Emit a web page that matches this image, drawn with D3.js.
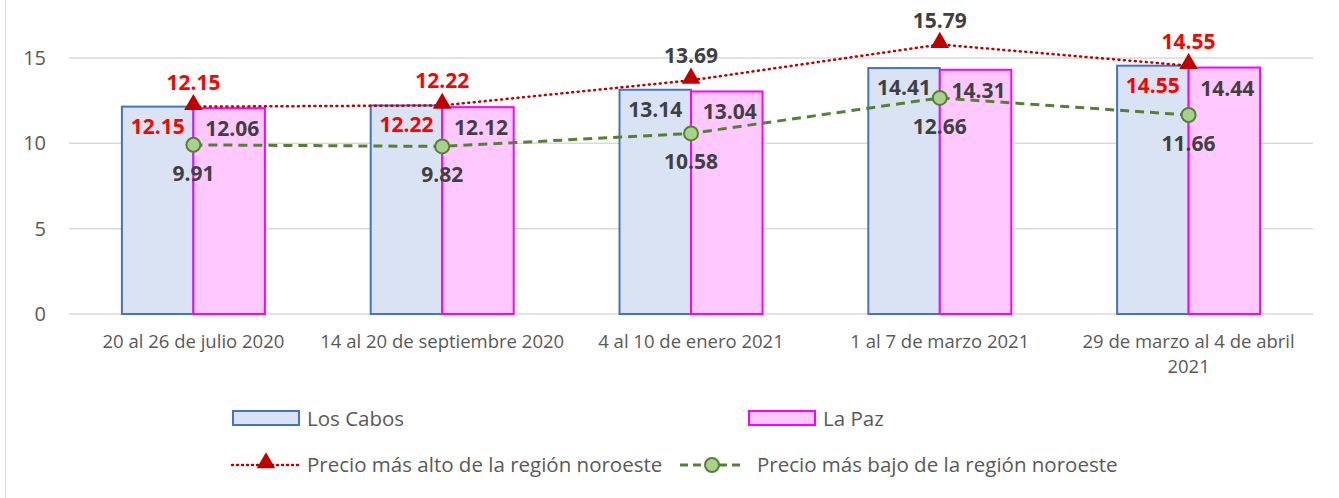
<!DOCTYPE html>
<html>
<head>
<meta charset="utf-8">
<script src="https://cdn.jsdelivr.net/npm/d3@7"></script>
<style>
  body { margin: 0; background: #fff; }
  svg { font-family: "Open Sans", "Liberation Sans", sans-serif; }
</style>
</head>
<body>
<div id="chart"></div>
<script>
const categories = [["20 al 26 de julio 2020"], ["14 al 20 de septiembre 2020"], ["4 al 10 de enero 2021"], ["1 al 7 de marzo 2021"], ["29 de marzo al 4 de abril", "2021"]];
const losCabos = [12.15, 12.22, 13.14, 14.41, 14.55];
const laPaz = [12.06, 12.12, 13.04, 14.31, 14.44];
const precioAlto = [12.15, 12.22, 13.69, 15.79, 14.55];
const precioBajo = [9.91, 9.82, 10.58, 12.66, 11.66];
const yTicks = [0, 5, 10, 15];
// labels drawn in red where the value matches the highest price
const altoRojo = [true, true, false, false, true];

const W = 1339, H = 498;
const plot = {left: 69, right: 1313, top: 58, bottom: 314};

const svg = d3.select("#chart").append("svg")
  .attr("width", W).attr("height", H);

// chart border (left edge visible)
svg.append("line")
  .attr("x1", 5.5).attr("x2", 5.5).attr("y1", 0).attr("y2", H)
  .attr("stroke", "#d9d9d9").attr("stroke-width", 1);

const x = d3.scaleBand()
  .domain(d3.range(categories.length))
  .range([plot.left, plot.right]);

const xInner = d3.scaleBand()
  .domain(["cabos", "paz"])
  .range([0, 143])
  .padding(0);

const y = d3.scaleLinear()
  .domain([0, 15])
  .range([plot.bottom, plot.top]);

// gridlines
svg.append("g")
  .selectAll("line")
  .data(yTicks)
  .enter().append("line")
  .attr("x1", plot.left).attr("x2", plot.right)
  .attr("y1", d => y(d)).attr("y2", d => y(d))
  .attr("stroke", "#d9d9d9").attr("stroke-width", 1.5);

// y tick labels
svg.append("g")
  .selectAll("text")
  .data(yTicks)
  .enter().append("text")
  .attr("x", 46).attr("y", d => y(d) + 7)
  .attr("text-anchor", "end")
  .attr("font-size", 20).attr("fill", "#595959")
  .text(d => d);

// x labels
const xl = svg.append("g").selectAll("text")
  .data(categories)
  .enter().append("text")
  .attr("x", (d, i) => x(i) + x.bandwidth() / 2)
  .attr("y", 348)
  .attr("text-anchor", "middle")
  .attr("font-size", 18.5).attr("fill", "#595959");
xl.selectAll("tspan")
  .data(d => d)
  .enter().append("tspan")
  .attr("x", function() { return d3.select(this.parentNode).attr("x"); })
  .attr("dy", (d, i) => i === 0 ? 0 : 25)
  .text(d => d);

const cx = i => x(i) + x.bandwidth() / 2;
const groupStart = i => cx(i) - xInner.range()[1] / 2;

// bars
svg.append("g").selectAll("rect")
  .data(losCabos)
  .enter().append("rect")
  .attr("x", (d, i) => groupStart(i) + xInner("cabos"))
  .attr("y", d => y(d))
  .attr("width", xInner.bandwidth())
  .attr("height", d => plot.bottom - y(d))
  .attr("fill", "#dae3f3").attr("stroke", "#4472c4").attr("stroke-width", 2);

svg.append("g").selectAll("rect")
  .data(laPaz)
  .enter().append("rect")
  .attr("x", (d, i) => groupStart(i) + xInner("paz"))
  .attr("y", d => y(d))
  .attr("width", xInner.bandwidth())
  .attr("height", d => plot.bottom - y(d))
  .attr("fill", "#ffc9ff").attr("stroke", "#ff00ff").attr("stroke-width", 2);

// lines
const line = d3.line().x((d, i) => cx(i)).y(d => y(d));

svg.append("path")
  .datum(precioAlto)
  .attr("d", line)
  .attr("fill", "none").attr("stroke", "#c00000")
  .attr("stroke-width", 2.5).attr("stroke-dasharray", "1,4.5").attr("stroke-linecap", "round");

svg.append("path")
  .datum(precioBajo)
  .attr("d", line)
  .attr("fill", "none").attr("stroke", "#548235")
  .attr("stroke-width", 3).attr("stroke-dasharray", "9,6");

const tri = d3.symbol().type(d3.symbolTriangle).size(150);
svg.append("g").selectAll("path")
  .data(precioAlto)
  .enter().append("path")
  .attr("d", tri)
  .attr("transform", (d, i) => `translate(${cx(i)},${y(d) - 2})`)
  .attr("fill", "#c00000");

svg.append("g").selectAll("circle")
  .data(precioBajo)
  .enter().append("circle")
  .attr("cx", (d, i) => cx(i)).attr("cy", d => y(d))
  .attr("r", 7)
  .attr("fill", "#a9d18e").attr("stroke", "#548235").attr("stroke-width", 2);

// data labels
const labelSize = 21;
const dark = "#404040", red = "#ff0000";

svg.append("g").selectAll("text")
  .data(losCabos)
  .enter().append("text")
  .attr("x", (d, i) => groupStart(i) + xInner("cabos") + xInner.bandwidth() / 2)
  .attr("y", d => y(d) + 27)
  .attr("text-anchor", "middle")
  .attr("font-size", labelSize).attr("font-weight", "bold")
  .attr("fill", (d, i) => d === precioAlto[i] ? red : dark)
  .text(d => d.toFixed(2));

svg.append("g").selectAll("text")
  .data(laPaz)
  .enter().append("text")
  .attr("x", (d, i) => groupStart(i) + xInner("paz") + xInner.bandwidth() / 2 + 3)
  .attr("y", d => y(d) + 28)
  .attr("text-anchor", "middle")
  .attr("font-size", labelSize).attr("font-weight", "bold")
  .attr("fill", dark)
  .text(d => d.toFixed(2));

svg.append("g").selectAll("text")
  .data(precioAlto)
  .enter().append("text")
  .attr("x", (d, i) => cx(i))
  .attr("y", d => y(d) - 17)
  .attr("text-anchor", "middle")
  .attr("font-size", labelSize).attr("font-weight", "bold")
  .attr("fill", (d, i) => altoRojo[i] ? red : dark)
  .text(d => d.toFixed(2));

svg.append("g").selectAll("text")
  .data(precioBajo)
  .enter().append("text")
  .attr("x", (d, i) => cx(i))
  .attr("y", d => y(d) + 36)
  .attr("text-anchor", "middle")
  .attr("font-size", labelSize).attr("font-weight", "bold")
  .attr("fill", dark)
  .text(d => d.toFixed(2));

// legend
const legend = svg.append("g").attr("font-size", 20.5).attr("fill", "#595959");

legend.append("rect").attr("x", 233).attr("y", 411).attr("width", 66).attr("height", 14)
  .attr("fill", "#dae3f3").attr("stroke", "#4472c4").attr("stroke-width", 2);
legend.append("text").attr("x", 307).attr("y", 426).text("Los Cabos");

legend.append("rect").attr("x", 749).attr("y", 411).attr("width", 66).attr("height", 14)
  .attr("fill", "#ffc9ff").attr("stroke", "#ff00ff").attr("stroke-width", 2);
legend.append("text").attr("x", 823).attr("y", 426).text("La Paz");

legend.append("line").attr("x1", 232).attr("x2", 300).attr("y1", 465).attr("y2", 465)
  .attr("stroke", "#c00000").attr("stroke-width", 2.5).attr("stroke-dasharray", "1,4").attr("stroke-linecap", "round");
legend.append("path").attr("d", tri).attr("transform", "translate(266,463)").attr("fill", "#c00000");
legend.append("text").attr("x", 307).attr("y", 472).text("Precio más alto de la región noroeste");

legend.append("line").attr("x1", 680).attr("x2", 745).attr("y1", 465).attr("y2", 465)
  .attr("stroke", "#548235").attr("stroke-width", 3).attr("stroke-dasharray", "8,5");
legend.append("circle").attr("cx", 712).attr("cy", 465).attr("r", 7)
  .attr("fill", "#a9d18e").attr("stroke", "#548235").attr("stroke-width", 2);
legend.append("text").attr("x", 757).attr("y", 472).text("Precio más bajo de la región noroeste");
</script>
</body>
</html>
